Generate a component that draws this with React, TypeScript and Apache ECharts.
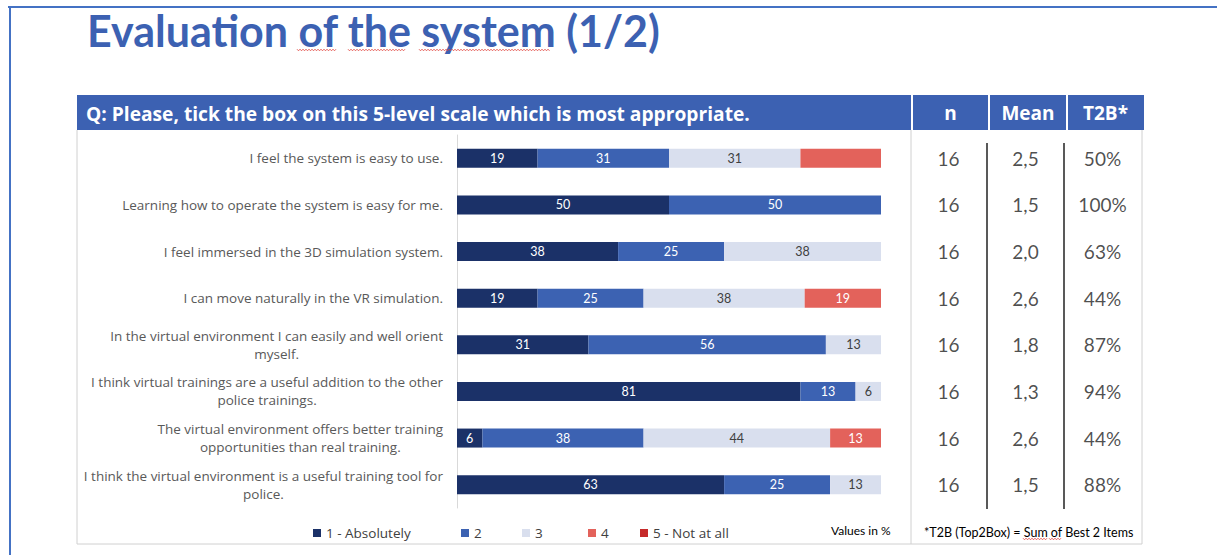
import React, { useEffect, useRef } from "react";
import * as echarts from "echarts";

const categories = [
  "I feel the system is easy to use.",
  "Learning how to operate the system is easy for me.",
  "I feel immersed in the 3D simulation system.",
  "I can move naturally in the VR simulation.",
  "In the virtual environment I can easily and well orient\nmyself.",
  "I think virtual trainings are a useful addition to the other\npolice trainings.",
  "The virtual environment offers better training\nopportunities than real training.",
  "I think the virtual environment is a useful training tool for\npolice.",
];
const seriesNames = ["1 - Absolutely", "2", "3", "4", "5 - Not at all"];
const s1 = [19, 50, 38, 19, 31, 81, 6, 63];
const s2 = [31, 50, 25, 25, 56, 13, 38, 25];
const s3 = [31, null, 38, 38, 13, 6, 44, 13];
const s4 = [19, null, null, 19, null, null, 13, null];
const s5 = [null, null, null, null, null, null, null, null];
// label of series "4" in the first row is not shown in the reference
const hiddenLabel = [[3, 0]];

const tableHeaders = ["n", "Mean", "T2B*"];
const nValues = [16, 16, 16, 16, 16, 16, 16, 16];
const meanValues = [2.5, 1.5, 2.0, 2.6, 1.8, 1.3, 2.6, 1.5];
const t2bValues = [50, 100, 63, 44, 87, 94, 44, 88];

const titleText = "Evaluation of the system (1/2)";
const questionText = "Q: Please, tick the box on this 5-level scale which is most appropriate.";
const valuesNote = "Values in %";
const t2bNote = "*T2B (Top2Box) = Sum of Best 2 Items";

const COLORS = ["#1b3168", "#3c62b2", "#d9dfee", "#e3625b", "#c62a2a"];
const LABEL_COLORS = ["#ffffff", "#ffffff", "#404040", "#ffffff", "#ffffff"];
const FONT = "Lato, 'Open Sans', sans-serif";
const FONT2 = "'Open Sans', Lato, sans-serif";
const BLUE = "#3c61b2";
const LEGEND_LEFT = [313, 461, 522, 588, 640];

// spell-check style wavy underline
function wavy(x1: number, x2: number, y: number) {
  const pts: number[][] = [];
  let up = true;
  for (let x = x1; x <= x2; x += 1.5) {
    pts.push([x, up ? y - 0.8 : y + 0.8]);
    up = !up;
  }
  return { type: "polyline", shape: { points: pts }, style: { stroke: "#e0413a", lineWidth: 0.8, fill: null } };
}

export default function App() {
  const ref = useRef<HTMLDivElement>(null);
  useEffect(() => {
    if (!ref.current) return;
    const chart = echarts.init(ref.current, undefined, { renderer: "svg" });
    const allSeries = [s1, s2, s3, s4, s5];

    const barSeries = allSeries.map((arr, si) => ({
      name: seriesNames[si],
      type: "bar",
      stack: "total",
      barWidth: 19,
      xAxisIndex: 0,
      yAxisIndex: 0,
      itemStyle: { color: COLORS[si] },
      label: {
        show: true,
        position: "inside",
        color: LABEL_COLORS[si],
        fontSize: 12.5,
        fontFamily: FONT,
        formatter: (p: any) => (p.value == null ? "" : String(p.value)),
      },
      data: arr.map((v, ri) => {
        const hide = hiddenLabel.some(([s, r]) => s === si && r === ri);
        return hide ? { value: v, label: { show: false } } : v;
      }),
    }));

    const tableData: any[] = [];
    categories.forEach((_, ri) => {
      tableData.push({ value: [0, ri], text: String(nValues[ri]) });
      tableData.push({ value: [1, ri], text: meanValues[ri].toFixed(1).replace(".", ",") });
      tableData.push({ value: [2, ri], text: t2bValues[ri] + "%" });
    });

    const gridTop = 135;
    const gridH = 373;

    chart.setOption({
      animation: false,
      grid: [
        { left: 457, top: gridTop, width: 424, height: gridH },
        { left: 910, top: gridTop, width: 231, height: gridH },
      ],
      xAxis: [
        { type: "value", min: 0, max: 100, show: false, gridIndex: 0 },
        { type: "category", data: tableHeaders, show: false, gridIndex: 1 },
      ],
      yAxis: [
        {
          type: "category",
          gridIndex: 0,
          data: categories,
          inverse: true,
          axisLine: { show: true, lineStyle: { color: "#d9d9d9", width: 1 } },
          axisTick: { show: false },
          axisLabel: {
            margin: 14,
            align: "right",
            formatter: (v: string) => {
              const parts = v.split("\n");
              if (parts.length > 1) return `{a|${parts[0]}}\n{c|${parts[1]}}`;
              return `{a|${v}}`;
            },
            rich: {
              a: { fontSize: 13.5, color: "#595959", fontFamily: FONT2, lineHeight: 18 },
              c: { fontSize: 13.5, color: "#595959", fontFamily: FONT2, lineHeight: 18, align: "center" },
            },
          },
        },
        { type: "category", gridIndex: 1, data: categories, inverse: true, show: false },
      ],
      legend: seriesNames.map((name, i) => ({
        data: [name],
        left: LEGEND_LEFT[i],
        top: 526,
        padding: 0,
        icon: "rect",
        itemWidth: 8,
        itemHeight: 8,
        textStyle: { fontSize: 13.5, color: "#404040", fontFamily: FONT2 },
      })),
      series: [
        ...barSeries,
        {
          type: "scatter",
          xAxisIndex: 1,
          yAxisIndex: 1,
          symbolSize: 1,
          itemStyle: { color: "rgba(0,0,0,0)" },
          label: {
            show: true,
            position: "inside",
            fontSize: 19,
            color: "#1f1f1f",
            fontFamily: FONT,
            formatter: (p: any) => p.data.text,
          },
          data: tableData,
        },
      ],
      graphic: [
        // outer frame
        { type: "line", shape: { x1: 8, y1: 7, x2: 1217, y2: 7 }, style: { stroke: "#4472c4", lineWidth: 2 } },
        { type: "line", shape: { x1: 10, y1: 7, x2: 10, y2: 555 }, style: { stroke: "#4472c4", lineWidth: 2 } },
        // title
        {
          type: "text",
          x: 87,
          y: 30,
          style: { text: titleText, fill: BLUE, font: `bold 43px ${FONT}`, textVerticalAlign: "middle" },
        },
        wavy(297, 336, 50),
        wavy(348, 406, 50),
        wavy(419, 550, 50),
        // header bar
        { type: "rect", shape: { x: 77, y: 95, width: 1067, height: 35 }, style: { fill: BLUE } },
        { type: "line", shape: { x1: 912, y1: 95, x2: 912, y2: 130 }, style: { stroke: "#ffffff", lineWidth: 2 } },
        { type: "line", shape: { x1: 989, y1: 95, x2: 989, y2: 130 }, style: { stroke: "#ffffff", lineWidth: 2 } },
        { type: "line", shape: { x1: 1067, y1: 95, x2: 1067, y2: 130 }, style: { stroke: "#ffffff", lineWidth: 2 } },
        {
          type: "text",
          x: 86,
          y: 113,
          style: { text: questionText, fill: "#ffffff", font: `bold 19.2px ${FONT2}`, textVerticalAlign: "middle" },
        },
        ...tableHeaders.map((h, i) => ({
          type: "text",
          x: 950.5 + i * 77.5,
          y: 113,
          style: { text: h, fill: "#ffffff", font: `bold 19px ${FONT2}`, textAlign: "center", textVerticalAlign: "middle" },
        })),
        // box borders
        { type: "line", shape: { x1: 77, y1: 130, x2: 77, y2: 544 }, style: { stroke: "#d0d0d0", lineWidth: 1 } },
        { type: "line", shape: { x1: 77, y1: 544, x2: 1142, y2: 544 }, style: { stroke: "#d0d0d0", lineWidth: 1 } },
        { type: "line", shape: { x1: 911, y1: 130, x2: 911, y2: 544 }, style: { stroke: "#d0d0d0", lineWidth: 1 } },
        { type: "line", shape: { x1: 1142, y1: 130, x2: 1142, y2: 544 }, style: { stroke: "#d0d0d0", lineWidth: 1 } },
        // table separators
        { type: "line", shape: { x1: 987, y1: 143, x2: 987, y2: 509 }, style: { stroke: "#222222", lineWidth: 1.5 } },
        { type: "line", shape: { x1: 1064, y1: 143, x2: 1064, y2: 509 }, style: { stroke: "#222222", lineWidth: 1.5 } },
        // notes
        {
          type: "text",
          x: 831,
          y: 530,
          style: { text: valuesNote, fill: "#000000", font: `12px ${FONT}`, textVerticalAlign: "middle" },
        },
        {
          type: "text",
          x: 924,
          y: 532,
          style: { text: t2bNote, fill: "#000000", font: `12.5px ${FONT}`, textVerticalAlign: "middle" },
        },
        wavy(1023, 1047, 539),
        wavy(1049, 1062, 539),
      ],
    });
    return () => chart.dispose();
  }, []);
  return (
    <div
      ref={ref}
      style={{ position: "absolute", left: 0, top: 0, width: 1217, height: 555, background: "#ffffff" }}
    />
  );
}
